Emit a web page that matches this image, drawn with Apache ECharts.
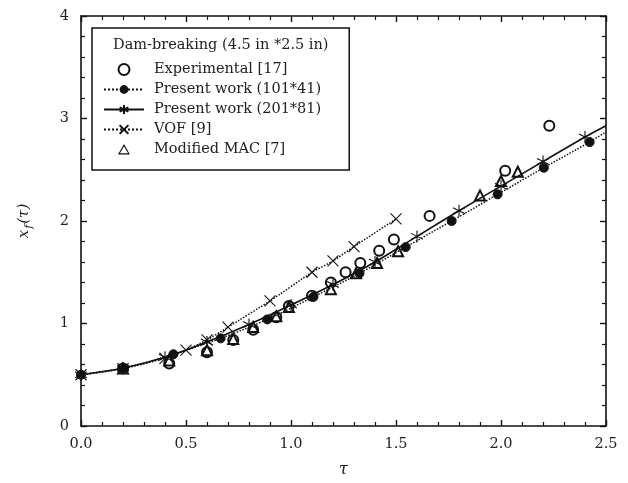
<!DOCTYPE html>
<html>
<head>
<meta charset="utf-8">
<script src="https://cdn.jsdelivr.net/npm/echarts@6/dist/echarts.min.js"></script>
<style>
  html, body { margin: 0; padding: 0; background: #fff; }
  #chart { width: 628px; height: 483px; }
</style>
</head>
<body>
<div id="chart"></div>
<script>
// Dam-breaking surge front position x_f versus dimensionless time tau

// Experimental [17]
const tauExp = [0.2, 0.42, 0.6, 0.725, 0.82, 0.93, 0.99, 1.1, 1.19, 1.26, 1.33, 1.42, 1.49, 1.66, 2.02, 2.23];
const xfExp  = [0.56, 0.61, 0.72, 0.84, 0.94, 1.06, 1.17, 1.27, 1.40, 1.50, 1.59, 1.71, 1.82, 2.05, 2.49, 2.93];

// Present work (101*41) - coarse mesh
const tauCoarse = [0, 0.2, 0.44, 0.665, 0.887, 1.107, 1.326, 1.546, 1.765, 1.984, 2.204, 2.422, 2.5];
const xfCoarse  = [0.5, 0.56, 0.70, 0.855, 1.04, 1.26, 1.49, 1.745, 2.0, 2.26, 2.52, 2.77, 2.87];

// Present work (201*81) - fine mesh
const tauFine = [0, 0.2, 0.4, 0.6, 0.8, 1.0, 1.2, 1.4, 1.6, 1.8, 2.0, 2.2, 2.4, 2.5];
const xfFine  = [0.5, 0.565, 0.67, 0.82, 0.99, 1.18, 1.38, 1.60, 1.85, 2.10, 2.34, 2.58, 2.82, 2.93];

// VOF [9]
const tauVof = [0, 0.2, 0.4, 0.5, 0.6, 0.7, 0.9, 1.1, 1.2, 1.3, 1.5];
const xfVof  = [0.5, 0.56, 0.66, 0.74, 0.84, 0.965, 1.22, 1.50, 1.61, 1.75, 2.02];

// Modified MAC [7]
const tauMac = [0.2, 0.42, 0.6, 0.725, 0.82, 0.93, 0.99, 1.19, 1.31, 1.41, 1.51, 1.9, 2.0, 2.08];
const xfMac  = [0.56, 0.64, 0.74, 0.85, 0.965, 1.07, 1.16, 1.335, 1.49, 1.59, 1.705, 2.25, 2.39, 2.48];

// Axis ticks
const xTicks = { min: 0, max: 2.5, step: 0.5, minorPerStep: 5 };
const yTicks = { min: 0, max: 4, step: 1, minorPerStep: 5 };

const legendTitle = 'Dam-breaking (4.5 in *2.5 in)';
const names = ['Experimental [17]', 'Present work (101*41)', 'Present work (201*81)', 'VOF [9]', 'Modified MAC [7]'];

const INK = '#111';
const FONT = 'DejaVu Serif';

const pairs = (xs, ys) => xs.map((x, i) => [x, ys[i]]);
// the final point of a computed curve carries the line to the frame without a marker
const curve = (xs, ys, hideLastSymbol) => xs.map((x, i) =>
  (hideLastSymbol && i === xs.length - 1) ? { value: [x, ys[i]], symbol: 'none' } : [x, ys[i]]);

const SYM_ASTERISK = 'path://M5,0L5,10M0.7,2.5L9.3,7.5M0.7,7.5L9.3,2.5';
const SYM_CROSS = 'path://M0,0L10,10M10,0L0,10';
// legend key for the triangle: the outer move-to points widen the box so the triangle keeps its shape
const KEY_TRIANGLE = 'path://M-15,10M0,10L5,1.34L10,10ZM25,10';

function axisCommon(cfg, showLabels) {
  return {
    type: 'value',
    min: cfg.min, max: cfg.max, interval: cfg.step,
    axisLine: { show: true, onZero: false, lineStyle: { color: INK, width: 1.6 } },
    axisTick: { show: true, inside: true, length: 6, lineStyle: { color: INK, width: 1.4 } },
    minorTick: { show: true, splitNumber: cfg.minorPerStep, length: 4, lineStyle: { color: INK, width: 1.2 } },
    splitLine: { show: false },
    axisLabel: { show: showLabels, fontFamily: FONT, fontSize: 14, color: '#222' }
  };
}

const chart = echarts.init(document.getElementById('chart'), null, { renderer: 'canvas' });

chart.setOption({
  backgroundColor: '#fff',
  animation: false,
  grid: { left: 81, right: 22, top: 16, bottom: 53 },
  xAxis: [
    Object.assign(axisCommon(xTicks, true), {
      position: 'bottom',
      axisLabel: { show: true, fontFamily: FONT, fontSize: 14.5, color: '#222', margin: 11,
        formatter: v => v.toFixed(1) },
      name: 'τ', nameLocation: 'middle', nameGap: 36,
      nameTextStyle: { fontFamily: FONT, fontStyle: 'italic', fontSize: 16, color: '#222' }
    }),
    Object.assign(axisCommon(xTicks, false), { position: 'top' })
  ],
  yAxis: [
    Object.assign(axisCommon(yTicks, true), {
      position: 'left',
      axisLabel: { show: true, fontFamily: FONT, fontSize: 14.5, color: '#222', margin: 12 },
      name: '{v|x}{s|f}{v|(τ)}', nameLocation: 'middle', nameGap: 46, nameRotate: 90,
      nameTextStyle: {
        rich: {
          v: { fontFamily: FONT, fontStyle: 'italic', fontSize: 15, color: '#222', lineHeight: 22, verticalAlign: 'middle' },
          s: { fontFamily: FONT, fontStyle: 'italic', fontSize: 11, color: '#222', lineHeight: 22, verticalAlign: 'bottom', padding: [0, 1, 0, 1] }
        }
      }
    }),
    Object.assign(axisCommon(yTicks, false), { position: 'right' })
  ],
  legend: {
    orient: 'vertical',
    left: 92, top: 28,
    padding: [34, 28, 13, 11],
    borderColor: INK, borderWidth: 1.5,
    backgroundColor: '#fff',
    itemWidth: 40, itemHeight: 11, itemGap: 5,
    symbolKeepAspect: true,
    textStyle: { fontFamily: FONT, fontSize: 14.5, color: '#222', padding: [0, 0, 0, 5] },
    data: [
      names[0], names[1], names[2], names[3],
      { name: names[4], icon: KEY_TRIANGLE, itemStyle: { color: '#fff', borderColor: INK, borderWidth: 1.1 } }
    ]
  },
  graphic: [
    {
      type: 'text', left: 113, top: 38, z: 100,
      style: { text: legendTitle, font: '14.5px "DejaVu Serif"', fill: '#222' }
    }
  ],
  series: [
    {
      name: names[0], type: 'scatter',
      data: pairs(tauExp, xfExp),
      symbol: 'emptyCircle', symbolSize: 10, symbolKeepAspect: true,
      itemStyle: { color: INK, borderColor: INK, borderWidth: 1.1, opacity: 1 },
      z: 3
    },
    {
      name: names[1], type: 'line',
      data: curve(tauCoarse, xfCoarse, true),
      smooth: 0.3,
      symbol: 'circle', symbolSize: 9, showAllSymbol: true,
      lineStyle: { color: INK, width: 1.5, type: 'dotted' },
      itemStyle: { color: INK, borderColor: INK },
      z: 4
    },
    {
      name: names[2], type: 'line',
      data: curve(tauFine, xfFine, true),
      smooth: 0.3,
      symbol: SYM_ASTERISK, symbolSize: 12, showAllSymbol: true,
      lineStyle: { color: INK, width: 1.6, type: 'solid' },
      itemStyle: { color: INK, borderColor: INK, borderWidth: 1.1 },
      z: 5
    },
    {
      name: names[3], type: 'line',
      data: curve(tauVof, xfVof, false),
      smooth: 0.2,
      symbol: SYM_CROSS, symbolSize: 11, showAllSymbol: true,
      lineStyle: { color: INK, width: 1.5, type: 'dotted' },
      itemStyle: { color: INK, borderColor: INK, borderWidth: 1.1 },
      z: 3
    },
    {
      name: names[4], type: 'scatter',
      data: pairs(tauMac, xfMac),
      symbol: 'emptyTriangle', symbolSize: 10, symbolKeepAspect: true,
      itemStyle: { color: INK, borderColor: INK, borderWidth: 1.1, opacity: 1 },
      z: 3
    }
  ]
});
</script>
</body>
</html>
